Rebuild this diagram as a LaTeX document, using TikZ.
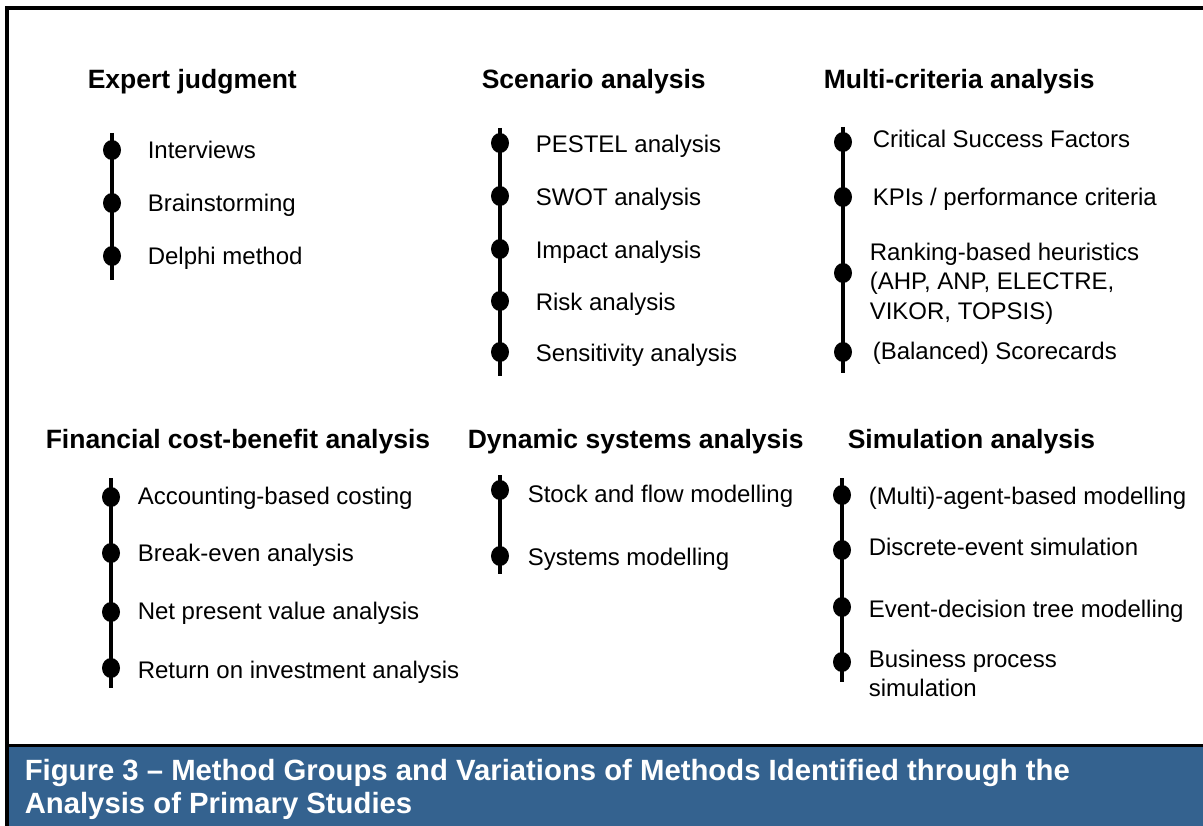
\documentclass[tikz,border=0pt]{standalone}
\usepackage{fontspec}
\setmainfont{Liberation Sans}
\usetikzlibrary{shapes.geometric}
\usetikzlibrary{positioning}
\usetikzlibrary{calc}
\definecolor{capblue}{RGB}{52,98,143}
\tikzset{every picture/.style={line width=3.5pt}}

\begin{document}
\begin{tikzpicture}[x=1pt,y=-1pt,
grp/.style={anchor=west,inner sep=0pt,text height=22pt,text depth=5pt,font=\fontsize{26.5}{31}\selectfont\bfseries},
mth/.style={anchor=west,inner sep=0pt,text height=21pt,text depth=4pt,font=\fontsize{24}{29.5}\selectfont},
mthm/.style={anchor=north west,inner sep=0pt,align=left,font=\fontsize{24}{29.5}\selectfont},
dt/.style={ellipse,fill,inner sep=0pt,minimum width=18pt,minimum height=20pt}]
\useasboundingbox (0,0) rectangle (1203,826);
\fill[capblue] (7,746) rectangle (1203,826);
\draw (7,826) -- (7,8) -- (1203,8);
\draw[line width=3pt] (7,745) -- (1203,745);
\node (cap) at (23,789) [anchor=west,inner sep=0pt,align=left,text=white,font=\fontsize{29.3}{33}\selectfont\bfseries] {Figure 3 – Method Groups and Variations of Methods Identified through the\\Analysis of Primary Studies};

% Expert judgment
\node (g1) at (86,80) [grp] {Expert judgment};
\coordinate (a0) at (112,133);
\coordinate (a9) at (112,280);
\draw (a0) -- (a9);
\foreach \d/\y/\t [count=\i] in {150/150/Interviews,203/203/Brainstorming,256/256/Delphi method} {
\node (a\i) at (112,\d) [dt] {};
\node (at\i) at (146,\y) [mth] {\t};
}

% Scenario analysis
\node (g2) at (480,80) [grp] {Scenario analysis};
\coordinate (b0) at (500,128);
\coordinate (b9) at (500,376);
\draw (b0) -- (b9);
\foreach \d/\y/\t [count=\i] in {143/144/PESTEL analysis,196/197/SWOT analysis,249/250/Impact analysis,301/302/Risk analysis,352/353/Sensitivity analysis} {
\node (b\i) at (500,\d) [dt] {};
\node (bt\i) at (534,\y) [mth] {\t};
}

% Multi-criteria analysis
\node (g3) at (822,80) [grp] {Multi-criteria analysis};
\coordinate (c0) at (843,127);
\coordinate (c9) at (843,373);
\draw (c0) -- (c9);
\foreach \d/\y/\t [count=\i] in {142/139/Critical Success Factors,197/197/{KPIs / performance criteria},352/351/(Balanced) Scorecards} {
\node (c\i) at (843,\d) [dt] {};
\node (ct\i) at (871,\y) [mth] {\t};
}
\node (c4) at (843,273) [dt] {};
\node (ct4) at (868,241) [mthm] {Ranking-based heuristics\\(AHP, ANP, ELECTRE,\\VIKOR, TOPSIS)};

% Financial cost-benefit analysis
\node (g4) at (44,440) [grp] {Financial cost-benefit analysis};
\coordinate (d0) at (111,478);
\coordinate (d9) at (111,688);
\draw (d0) -- (d9);
\foreach \d/\y/\t [count=\i] in {497/496/Accounting-based costing,553/553/Break-even analysis,612/611/Net present value analysis,668/670/Return on investment analysis} {
\node (d\i) at (111,\d) [dt] {};
\node (dt\i) at (136,\y) [mth] {\t};
}

% Dynamic systems analysis
\node (g5) at (466,440) [grp] {Dynamic systems analysis};
\coordinate (e0) at (500,475);
\coordinate (e9) at (500,574);
\draw (e0) -- (e9);
\foreach \d/\y/\t [count=\i] in {490/494/Stock and flow modelling,556/557/Systems modelling} {
\node (e\i) at (500,\d) [dt] {};
\node (et\i) at (526,\y) [mth] {\t};
}

% Simulation analysis
\node (g6) at (846,440) [grp] {Simulation analysis};
\coordinate (f0) at (842,478);
\coordinate (f9) at (842,682);
\draw (f0) -- (f9);
\foreach \d/\y/\t [count=\i] in {495/496/(Multi)-agent-based modelling,550/547/Discrete-event simulation,607/609/Event-decision tree modelling} {
\node (f\i) at (842,\d) [dt] {};
\node (ft\i) at (867,\y) [mth] {\t};
}
\node (f4) at (842,662) [dt] {};
\node (ft4) at (867,648) [mthm] {Business process\\simulation};
\end{tikzpicture}
\end{document}
